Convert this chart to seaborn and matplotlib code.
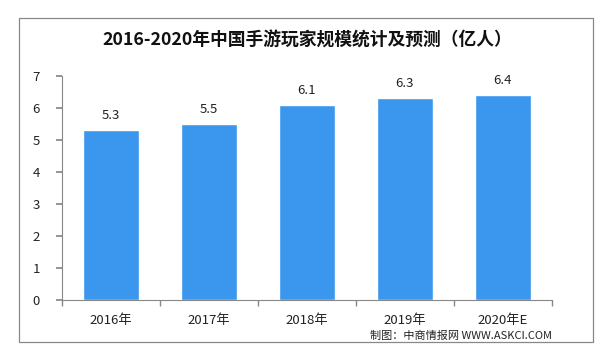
import matplotlib
matplotlib.use("Agg")
import matplotlib.pyplot as plt
import seaborn as sns
import pandas as pd
from matplotlib.patches import Rectangle

categories = ["2016年", "2017年", "2018年", "2019年", "2020年E"]
values = [5.3, 5.5, 6.1, 6.3, 6.4]
yticks = [0, 1, 2, 3, 4, 5, 6, 7]
title = "2016-2020年中国手游玩家规模统计及预测（亿人）"
source = "制图：中商情报网 WWW.ASKCI.COM"

sns.set_theme(style="white")
plt.rcParams['font.family'] = ['Noto Sans CJK SC', 'DejaVu Sans']

W, H = 604, 354
fig = plt.figure(figsize=(W / 100, H / 100), dpi=100)
ax = fig.add_axes([62 / W, 1 - 300 / H, (552 - 62) / W, (300 - 76) / H])

df = pd.DataFrame({"cat": categories, "val": values})
sns.barplot(data=df, x="cat", y="val", color="#3B97EE", saturation=1, width=0.58, ax=ax)

ax.set_xlim(-0.5, len(categories) - 0.5)
ax.set_ylim(0, 7)
ax.set_yticks(yticks)
ax.set_yticklabels([str(t) for t in yticks], fontsize=9.5, color="#222222")
ax.set_xlabel("")
ax.set_ylabel("")
ax.set_xticks(range(len(categories)))
ax.set_xticklabels(categories, fontsize=9.5, color="#222222")
ax.set_xticks([i - 0.5 for i in range(len(categories) + 1)], minor=True)
ax.tick_params(axis="x", which="major", length=0, pad=10)
ax.tick_params(axis="x", which="minor", length=4, color="#888888", direction="out", bottom=True)
ax.tick_params(axis="y", length=4, color="#888888", direction="out", left=True, pad=12)

for s in ["top", "right"]:
    ax.spines[s].set_visible(False)
for s in ["left", "bottom"]:
    ax.spines[s].set_color("#888888")
    ax.spines[s].set_linewidth(0.8)

for i, v in enumerate(values):
    ax.text(i, v + 0.25, f"{v}", ha="center", va="bottom", fontsize=9.5, color="#222222")

fig.patches.append(Rectangle((19 / W, 1 - 342 / H), (593 - 19) / W, (342 - 18) / H,
                             transform=fig.transFigure, fill=False, edgecolor="#888888", linewidth=0.9))

fig.text(307 / W, 1 - 41 / H, title, ha="center", va="center", fontsize=12.8, fontweight="bold", color="#111111")
fig.text(552 / W, 1 - 336 / H, source, ha="right", va="center", fontsize=8, color="#222222")

fig.savefig("out.png", dpi=100)
